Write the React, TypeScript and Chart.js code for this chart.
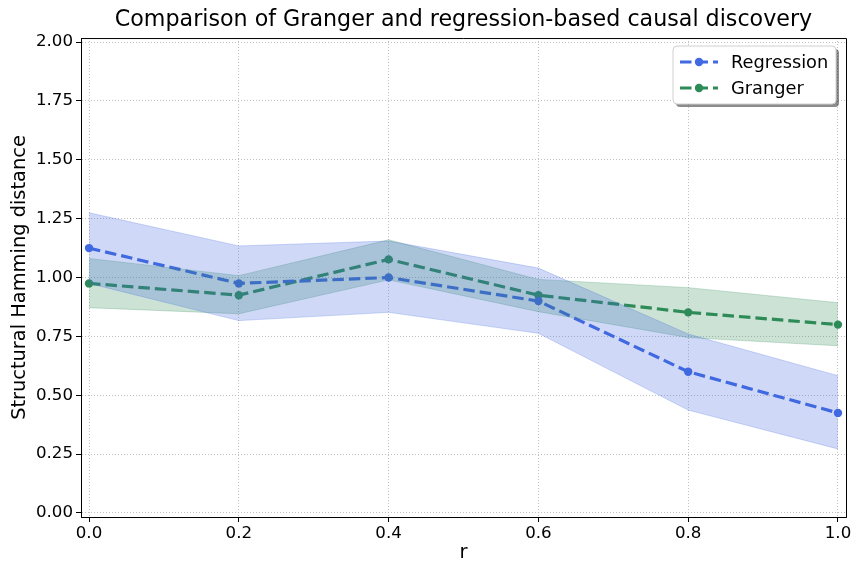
import React, { useEffect, useRef } from "react";
import { Chart, registerables } from "chart.js";

Chart.register(...registerables);

const rValues = [0, 0.2, 0.4, 0.6, 0.8, 1.0];
const regressionMean = [1.125, 0.975, 1.0, 0.9, 0.6, 0.425];
const regressionLower = [0.975, 0.817, 0.852, 0.763, 0.437, 0.272];
const regressionUpper = [1.275, 1.134, 1.155, 1.04, 0.76, 0.583];
const grangerMean = [0.975, 0.925, 1.077, 0.925, 0.852, 0.8];
const grangerLower = [0.872, 0.846, 0.99, 0.855, 0.745, 0.71];
const grangerUpper = [1.081, 1.008, 1.16, 0.992, 0.957, 0.893];

const xTicks = [0, 0.2, 0.4, 0.6, 0.8, 1.0];
const yTicks = [0, 0.25, 0.5, 0.75, 1.0, 1.25, 1.5, 1.75, 2.0];

const BLUE = "#4169E1";
const GREEN = "#2E8B57";
const BLUE_FILL = "rgba(65,105,225,0.25)";
const GREEN_FILL = "rgba(46,139,87,0.25)";
const FONT = "'DejaVu Sans', sans-serif";
const DASH = [11.5, 5];

const toPts = (ys: number[]) => rValues.map((x, i) => ({ x, y: ys[i] }));

const frameAndLegend = {
  id: "frameAndLegend",
  afterDraw(chart: any) {
    const { ctx, chartArea } = chart;
    const { left, right, top, bottom } = chartArea;
    ctx.save();
    ctx.strokeStyle = "#000";
    ctx.lineWidth = 1;
    ctx.beginPath();
    ctx.moveTo(left, top + 0.5);
    ctx.lineTo(right + 0.5, top + 0.5);
    ctx.lineTo(right + 0.5, bottom);
    ctx.stroke();

    // legend
    const bx = 673, by = 46, bw = 163, bh = 58, rad = 4;
    const rr = (x: number, y: number, w: number, h: number) => {
      ctx.beginPath();
      ctx.moveTo(x + rad, y);
      ctx.lineTo(x + w - rad, y);
      ctx.quadraticCurveTo(x + w, y, x + w, y + rad);
      ctx.lineTo(x + w, y + h - rad);
      ctx.quadraticCurveTo(x + w, y + h, x + w - rad, y + h);
      ctx.lineTo(x + rad, y + h);
      ctx.quadraticCurveTo(x, y + h, x, y + h - rad);
      ctx.lineTo(x, y + rad);
      ctx.quadraticCurveTo(x, y, x + rad, y);
      ctx.closePath();
    };
    rr(bx + 3, by + 3, bw, bh);
    ctx.fillStyle = "rgba(0,0,0,0.45)";
    ctx.fill();
    rr(bx, by, bw, bh);
    ctx.fillStyle = "#fff";
    ctx.fill();
    ctx.strokeStyle = "#d0d0d0";
    ctx.lineWidth = 1;
    ctx.stroke();

    const items = [
      { label: "Regression", color: BLUE, y: 62 },
      { label: "Granger", color: GREEN, y: 88 },
    ];
    items.forEach((it) => {
      ctx.strokeStyle = it.color;
      ctx.lineWidth = 3;
      ctx.setLineDash(DASH);
      ctx.beginPath();
      ctx.moveTo(680, it.y);
      ctx.lineTo(718, it.y);
      ctx.stroke();
      ctx.setLineDash([]);
      ctx.fillStyle = it.color;
      ctx.beginPath();
      ctx.arc(699, it.y, 4.2, 0, Math.PI * 2);
      ctx.fill();
      ctx.fillStyle = "#000";
      ctx.font = `17.8px ${FONT}`;
      ctx.textAlign = "left";
      ctx.textBaseline = "middle";
      ctx.fillText(it.label, 731, it.y + 1);
    });
    ctx.restore();
  },
};

export default function App() {
  const ref = useRef<HTMLCanvasElement>(null);
  useEffect(() => {
    if (!ref.current) return;
    const band = (up: number[], fill: string) => ({
      data: toPts(up),
      borderColor: fill,
      backgroundColor: fill,
      borderWidth: 1,
      pointRadius: 0,
      fill: "+1",
      tension: 0,
    });
    const bandLow = (lo: number[], fill: string) => ({
      data: toPts(lo),
      borderColor: fill,
      backgroundColor: fill,
      borderWidth: 1,
      pointRadius: 0,
      fill: false,
      tension: 0,
    });
    const line = (label: string, ys: number[], color: string) => ({
      label,
      data: toPts(ys),
      borderColor: color,
      backgroundColor: color,
      borderWidth: 3.2,
      borderDash: DASH,
      pointRadius: 4.2,
      pointBorderWidth: 0,
      pointBackgroundColor: color,
      fill: false,
      tension: 0,
    });
    const gridOpts = {
      color: "#b0b0b0",
      lineWidth: 0.8,
      tickColor: "#000",
      tickLength: 5,
      tickBorderDash: [],
      tickWidth: 1,
    } as any;
    const borderOpts = { display: true, color: "#000", width: 1, dash: [1, 2] } as any;
    const chart = new Chart(ref.current, {
      type: "line",
      data: {
        datasets: [
          band(regressionUpper, BLUE_FILL),
          bandLow(regressionLower, BLUE_FILL),
          band(grangerUpper, GREEN_FILL),
          bandLow(grangerLower, GREEN_FILL),
          line("Regression", regressionMean, BLUE),
          line("Granger", grangerMean, GREEN),
        ] as any,
      },
      options: {
        animation: false,
        responsive: false,
        devicePixelRatio: 1,
        layout: { padding: { left: 0, right: 18, top: 0, bottom: 0 } },
        plugins: {
          legend: { display: false },
          tooltip: { enabled: false },
          title: {
            display: true,
            text: "Comparison of Granger and regression-based causal discovery",
            color: "#000",
            font: { family: FONT, size: 22.2, weight: "normal" },
            padding: { top: 6.7, bottom: 4.7 },
            fullSize: false,
          },
        },
        scales: {
          x: {
            type: "linear",
            min: -0.0107,
            max: 1.0107,
            afterBuildTicks: (s: any) => {
              s.ticks = xTicks.map((v) => ({ value: v }));
            },
            afterFit: (s: any) => {
              s.height = 59;
            },
            ticks: {
              color: "#000",
              font: { family: FONT, size: 16.67 },
              padding: 2,
              maxRotation: 0,
              callback: (v: any) => Number(v).toFixed(1),
            },
            grid: gridOpts,
            border: borderOpts,
            title: {
              display: true,
              text: "r",
              color: "#000",
              font: { family: FONT, size: 19.4 },
              padding: { top: 0, bottom: 11.4 },
            },
          },
          y: {
            type: "linear",
            min: -0.017,
            max: 2.017,
            afterBuildTicks: (s: any) => {
              s.ticks = yTicks.map((v) => ({ value: v }));
            },
            afterFit: (s: any) => {
              s.width = 81;
            },
            ticks: {
              color: "#000",
              font: { family: FONT, size: 16.67 },
              padding: 3,
              callback: (v: any) => Number(v).toFixed(2),
            },
            grid: gridOpts,
            border: borderOpts,
            title: {
              display: true,
              text: "Structural Hamming distance",
              color: "#000",
              font: { family: FONT, size: 19.4 },
              padding: { top: 8.4, bottom: 0 },
            },
          },
        },
      },
      plugins: [frameAndLegend],
    });
    return () => chart.destroy();
  }, []);
  return (
    <div style={{ position: "fixed", left: 0, top: 0, width: 864, height: 576, background: "#fff" }}>
      <canvas ref={ref} width={864} height={576} style={{ display: "block", width: 864, height: 576 }} />
    </div>
  );
}
